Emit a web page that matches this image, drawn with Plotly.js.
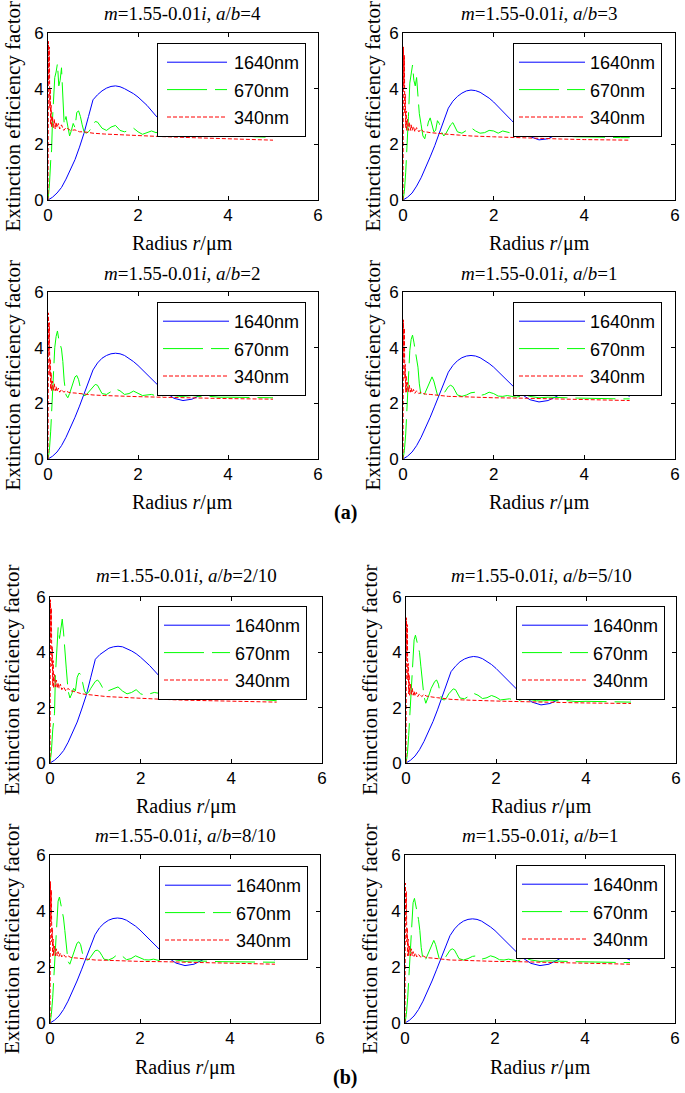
<!DOCTYPE html>
<html>
<head>
<meta charset="utf-8">
<script src="https://cdn.plot.ly/plotly-3.0.1.min.js"></script>
<style>html,body{margin:0;padding:0;background:#fff;}</style>
</head>
<body>
<div id="chart" style="width:685px;height:1093px;"></div>
<script>
// ---------- DATA ----------
const seriesNames = ['1640nm', '670nm', '340nm'];
const aspectLabels = ['4', '3', '2', '1', '2/10', '5/10', '8/10', '1'];
const xTicks = [0, 2, 4, 6];
const yTicks = [0, 2, 4, 6];

// radius grids (um)
const r1640 = [0,0.1,0.2,0.3,0.4,0.5,0.6,0.7,0.8,0.9,
  1.0,1.1,1.2,1.3,1.4,1.5,1.6,1.7,1.8,1.9,
  2.0,2.2,2.4,2.6,2.8,3.0,3.2,3.4,3.6,3.8,
  4.0,4.2,4.4,4.6,4.8,5.0];
const r670 = [0,0.03,0.06,0.08,0.1,0.12,0.15,0.18,0.21,0.24,
  0.27,0.3,0.33,0.36,0.4,0.44,0.48,0.52,0.56,0.6,
  0.64,0.68,0.72,0.76,0.8,0.85,0.9,0.95,1.0,1.05,
  1.1,1.15,1.2,1.3,1.4,1.5,1.6,1.7,1.8,1.9,
  2.0,2.1,2.2,2.3,2.4,2.5,2.6,2.7,2.8,2.9,
  3.0,3.2,3.4,3.6,3.8,4.0,4.2,4.4,4.6,4.8,5.0];
const r340 = [0,0.005,0.01,0.02,0.03,0.04,0.05,0.06,0.07,0.08,
  0.1,0.12,0.14,0.16,0.18,0.2,0.23,0.26,0.3,0.35,
  0.4,0.45,0.5,0.6,0.7,0.8,0.9,1.0,1.25,1.5,
  2.0,2.5,3.0,3.5,4.0,5.0];

// (a) a/b = 4
const q1640_ab4 = [0,0.1,0.25,0.45,0.75,1.1,1.45,1.9,2.4,3.0,
  3.6,3.78,3.92,4.02,4.08,4.1,4.07,4.0,3.92,3.82,
  3.7,3.4,3.02,2.7,2.42,2.27,2.3,2.45,2.65,2.8,
  2.88,2.88,2.8,2.68,2.52,2.4];
const q670_ab4 = [0,0.5,1.4,1.8,2.9,3.8,4.4,4.6,4.9,4.1,
  4.3,4.75,3.5,2.7,3.0,2.6,2.3,2.5,2.75,2.6,
  3.15,3.2,3.0,2.7,2.45,2.4,2.45,2.55,2.7,2.82,
  2.8,2.68,2.58,2.5,2.62,2.68,2.5,2.45,2.5,2.58,
  2.45,2.36,2.42,2.48,2.42,2.45,2.4,2.44,2.38,2.35,
  2.36,2.38,2.33,2.35,2.3,2.32,2.28,2.3,2.27,2.26,2.25];
const q340_ab4 = [0,2.0,5.7,4.2,5.5,3.3,4.0,2.7,3.4,2.6,
  3.0,2.6,2.9,2.55,2.8,2.6,2.75,2.55,2.7,2.5,
  2.6,2.55,2.5,2.52,2.45,2.45,2.42,2.4,2.37,2.35,
  2.3,2.28,2.25,2.23,2.2,2.15];

// (a) a/b = 3
const q1640_ab3 = [0,0.1,0.25,0.5,0.8,1.15,1.55,1.95,2.4,2.85,
  3.3,3.55,3.72,3.84,3.92,3.95,3.93,3.87,3.78,3.66,
  3.52,3.2,2.85,2.52,2.28,2.16,2.2,2.36,2.56,2.72,
  2.8,2.8,2.72,2.6,2.46,2.35];
const q670_ab3 = [0,0.3,1.0,1.6,2.2,3.0,4.2,4.6,4.85,4.3,
  4.1,4.4,3.6,3.1,2.7,2.3,2.2,2.5,2.8,2.95,
  2.7,2.45,2.5,2.85,2.75,2.45,2.3,2.4,2.55,2.7,
  2.78,2.6,2.45,2.4,2.5,2.6,2.48,2.4,2.42,2.5,
  2.48,2.4,2.48,2.44,2.4,2.42,2.38,2.36,2.34,2.3,
  2.3,2.32,2.3,2.3,2.27,2.27,2.26,2.25,2.25,2.24,2.24];
const q340_ab3 = [0,2.0,5.5,4.0,5.2,3.1,3.8,2.6,3.2,2.5,
  2.9,2.5,2.8,2.5,2.7,2.5,2.65,2.45,2.6,2.45,
  2.55,2.45,2.45,2.42,2.4,2.4,2.38,2.36,2.33,2.3,
  2.27,2.24,2.2,2.19,2.17,2.15];

// (a) a/b = 2
const q1640_ab2 = [0,0.1,0.25,0.48,0.78,1.12,1.5,1.9,2.35,2.8,
  3.2,3.45,3.62,3.72,3.78,3.8,3.78,3.72,3.62,3.5,
  3.36,3.04,2.7,2.4,2.18,2.1,2.15,2.3,2.5,2.66,
  2.75,2.76,2.7,2.58,2.42,2.28];
const q670_ab2 = [0,0.3,1.0,1.6,2.4,3.2,4.0,4.4,4.6,4.3,
  4.1,3.95,3.5,2.8,2.3,2.2,2.35,2.55,2.8,2.95,
  3.0,2.85,2.55,2.35,2.28,2.3,2.4,2.5,2.6,2.68,
  2.65,2.5,2.35,2.32,2.42,2.52,2.45,2.32,2.35,2.44,
  2.36,2.28,2.3,2.32,2.27,2.25,2.3,2.3,2.28,2.25,
  2.25,2.28,2.24,2.25,2.22,2.22,2.22,2.21,2.2,2.2,2.2];
const q340_ab2 = [0,2.0,5.25,3.8,4.9,3.0,3.6,2.5,3.1,2.45,
  2.8,2.45,2.7,2.45,2.6,2.42,2.55,2.4,2.5,2.4,
  2.45,2.4,2.38,2.37,2.35,2.33,2.32,2.3,2.28,2.26,
  2.24,2.22,2.2,2.18,2.17,2.15];

// a/b = 1 (used in (a) and (b))
const q1640_ab1 = [0,0.1,0.25,0.48,0.78,1.12,1.5,1.9,2.33,2.75,
  3.12,3.36,3.53,3.64,3.7,3.72,3.7,3.64,3.55,3.43,
  3.3,2.98,2.64,2.34,2.13,2.05,2.1,2.26,2.46,2.62,
  2.72,2.74,2.68,2.56,2.4,2.25];
const q670_ab1 = [0,0.3,0.9,1.5,2.2,3.0,3.9,4.3,4.45,4.2,
  3.9,3.7,3.3,2.7,2.25,2.2,2.35,2.5,2.7,2.85,
  2.95,2.8,2.5,2.3,2.25,2.25,2.35,2.48,2.6,2.65,
  2.6,2.45,2.3,2.25,2.3,2.38,2.4,2.28,2.32,2.4,
  2.35,2.26,2.25,2.28,2.24,2.22,2.26,2.3,2.25,2.22,
  2.2,2.22,2.2,2.2,2.19,2.18,2.18,2.17,2.17,2.16,2.16];
const q340_ab1 = [0,1.9,5.0,3.6,4.7,2.9,3.4,2.4,3.0,2.4,
  2.75,2.4,2.65,2.4,2.55,2.38,2.5,2.36,2.45,2.35,
  2.4,2.35,2.33,2.32,2.3,2.28,2.27,2.25,2.24,2.22,
  2.2,2.19,2.17,2.15,2.13,2.1];

// (b) a/b = 2/10
const q1640_ab02 = [0,0.1,0.25,0.45,0.75,1.1,1.48,1.95,2.45,3.1,
  3.75,3.92,4.05,4.15,4.2,4.22,4.2,4.13,4.05,3.95,
  3.82,3.52,3.15,2.8,2.5,2.33,2.35,2.5,2.68,2.84,
  2.93,2.94,2.88,2.76,2.62,2.5];
const q670_ab02 = [0,0.4,1.2,1.5,1.8,3.2,4.3,4.9,4.5,4.8,
  5.2,4.7,3.9,3.4,2.6,2.35,2.5,2.7,2.6,3.1,
  3.25,3.2,2.9,2.6,2.5,2.55,2.7,2.85,2.95,3.0,
  2.9,2.75,2.6,2.62,2.7,2.75,2.6,2.5,2.55,2.65,
  2.5,2.45,2.5,2.55,2.52,2.5,2.45,2.5,2.44,2.4,
  2.4,2.42,2.38,2.4,2.36,2.36,2.34,2.33,2.3,2.28,2.25];
const q340_ab02 = [0,2.1,5.9,4.5,5.6,3.5,4.2,2.8,3.7,2.7,
  3.2,2.75,3.0,2.7,2.9,2.7,2.85,2.65,2.75,2.6,
  2.7,2.6,2.6,2.55,2.5,2.48,2.46,2.45,2.4,2.38,
  2.33,2.3,2.27,2.25,2.22,2.2];

// (b) a/b = 5/10
const q1640_ab05 = [0,0.1,0.25,0.48,0.78,1.12,1.5,1.92,2.38,2.85,
  3.3,3.5,3.66,3.76,3.82,3.85,3.83,3.77,3.68,3.56,
  3.42,3.1,2.75,2.44,2.2,2.1,2.15,2.3,2.5,2.66,
  2.75,2.76,2.7,2.58,2.42,2.28];
const q670_ab05 = [0,0.3,1.0,1.6,2.2,3.0,4.0,4.45,4.62,4.4,
  4.2,4.0,3.5,2.9,2.4,2.16,2.3,2.5,2.7,2.85,
  2.95,3.0,2.85,2.5,2.3,2.28,2.35,2.5,2.6,2.68,
  2.65,2.5,2.35,2.32,2.42,2.52,2.45,2.33,2.36,2.44,
  2.38,2.28,2.3,2.32,2.28,2.26,2.3,2.3,2.28,2.25,
  2.24,2.27,2.24,2.25,2.22,2.23,2.22,2.22,2.21,2.21,2.2];
const q340_ab05 = [0,2.0,5.25,3.8,5.0,3.0,3.6,2.5,3.2,2.45,
  2.85,2.45,2.7,2.45,2.6,2.42,2.55,2.4,2.5,2.4,
  2.48,2.42,2.4,2.38,2.36,2.34,2.32,2.3,2.28,2.26,
  2.24,2.22,2.2,2.18,2.17,2.15];

// (b) a/b = 8/10
const q1640_ab08 = [0,0.1,0.25,0.48,0.78,1.12,1.5,1.9,2.33,2.76,
  3.15,3.4,3.56,3.67,3.73,3.75,3.73,3.67,3.58,3.46,
  3.32,3.0,2.66,2.36,2.14,2.05,2.1,2.26,2.46,2.62,
  2.72,2.74,2.68,2.56,2.4,2.25];
const q670_ab08 = [0,0.3,0.9,1.5,2.2,3.0,3.9,4.35,4.5,4.25,
  4.0,3.75,3.3,2.7,2.2,2.1,2.3,2.5,2.7,2.85,
  2.9,2.8,2.5,2.3,2.25,2.25,2.35,2.48,2.58,2.6,
  2.55,2.42,2.28,2.25,2.32,2.45,2.4,2.26,2.3,2.4,
  2.34,2.26,2.25,2.28,2.24,2.22,2.26,2.3,2.25,2.22,
  2.2,2.22,2.2,2.2,2.19,2.19,2.18,2.18,2.17,2.17,2.17];
const q340_ab08 = [0,1.9,5.05,3.6,4.75,2.9,3.4,2.4,3.0,2.4,
  2.75,2.4,2.65,2.4,2.55,2.38,2.5,2.36,2.45,2.35,
  2.4,2.35,2.33,2.32,2.3,2.28,2.27,2.25,2.24,2.22,
  2.2,2.19,2.17,2.15,2.13,2.1];

const panelData = [
  [q1640_ab4, q670_ab4, q340_ab4],
  [q1640_ab3, q670_ab3, q340_ab3],
  [q1640_ab2, q670_ab2, q340_ab2],
  [q1640_ab1, q670_ab1, q340_ab1],
  [q1640_ab02, q670_ab02, q340_ab02],
  [q1640_ab05, q670_ab05, q340_ab05],
  [q1640_ab08, q670_ab08, q340_ab08],
  [q1640_ab1, q670_ab1, q340_ab1]
];
const radii = [r1640, r670, r340];

// ---------- LAYOUT / STYLE ----------
const W = 685, H = 1093;
// axes boxes in px: [left, right, top, bottom]
const boxes = [
  [48, 318, 33, 200], [403, 675, 33, 200],
  [48, 318, 292, 459], [403, 675, 292, 459],
  [50, 322, 597, 763], [406, 676, 597, 763],
  [50, 320, 855, 1023], [405, 675, 855, 1023]
];
const legendPos = [[157, 43], [513, 43], [157, 302], [513, 302],
  [158, 606], [516, 606], [159, 866], [516, 865]];
const titleY = [13, 13, 273, 273, 575, 575, 835, 835];
const xTitleY = [243, 243, 502, 502, 806, 806, 1067, 1067];
const yTitleX = [12, 372, 12, 372, 12, 370, 12, 370];

const colors = ['#0000ff', '#00ff00', '#ff0000'];
const dashes = ['solid', '40px,8px', '4px,2px'];
const dashArr = ['none', '40px,8px', '4px,2px'];
const serif = 'Liberation Serif, Times New Roman, serif';
const sans = 'Liberation Sans, Arial, sans-serif';

const px = v => v / W;
const py = v => 1 - v / H;

const traces = [];
const layout = {
  width: W, height: H,
  margin: {l: 0, r: 0, t: 0, b: 0},
  paper_bgcolor: '#fff', plot_bgcolor: '#fff',
  showlegend: true,
  annotations: []
};

boxes.forEach((b, i) => {
  const k = i + 1;
  const xa = 'xaxis' + (k === 1 ? '' : k), ya = 'yaxis' + (k === 1 ? '' : k);
  const xr = 'x' + (k === 1 ? '' : k), yr = 'y' + (k === 1 ? '' : k);
  const lg = 'legend' + (k === 1 ? '' : k);
  const axCommon = {
    range: [0, 6], showgrid: false, zeroline: false,
    showline: true, linecolor: '#000', linewidth: 1, mirror: 'ticks',
    ticks: 'inside', ticklen: 4, tickwidth: 1, tickcolor: '#000',
    tickfont: {family: sans, size: 17, color: '#000'}, fixedrange: true
  };
  layout[xa] = Object.assign({}, axCommon, {
    domain: [px(b[0]), px(b[1])], anchor: yr, tickvals: xTicks, ticktext: xTicks.map(String)
  });
  layout[ya] = Object.assign({}, axCommon, {
    domain: [py(b[3]), py(b[2])], anchor: xr, tickvals: yTicks, ticktext: yTicks.map(String)
  });
  layout[lg] = {
    x: px(legendPos[i][0]), y: py(legendPos[i][1]), xanchor: 'left', yanchor: 'top',
    xref: 'paper', yref: 'paper',
    bgcolor: '#fff', bordercolor: '#000', borderwidth: 1,
    font: {family: sans, size: 18, color: '#000'},
    traceorder: 'grouped', tracegroupgap: 1, itemwidth: 66
  };
  panelData[i].forEach((ys, s) => {
    traces.push({
      type: 'scatter', mode: 'lines', name: seriesNames[s],
      x: radii[s], y: ys, xaxis: xr, yaxis: yr, legend: lg,
      legendgroup: 'g' + k + '_' + s, showlegend: true,
      line: {color: colors[s], width: 1, dash: dashes[s]},
      hoverinfo: 'skip'
    });
  });
  const cx = (b[0] + b[1]) / 2, cy = (b[2] + b[3]) / 2;
  layout.annotations.push({
    text: '<i>m</i>=1.55-0.01<i>i</i>, <i>a</i>/<i>b</i>=' + aspectLabels[i],
    xref: 'paper', yref: 'paper', x: px(cx), y: py(titleY[i]),
    xanchor: 'center', yanchor: 'middle', showarrow: false,
    font: {family: serif, size: 19, color: '#000'}
  });
  layout.annotations.push({
    text: 'Radius <i>r</i>/μm',
    xref: 'paper', yref: 'paper', x: px(cx), y: py(xTitleY[i]),
    xanchor: 'center', yanchor: 'middle', showarrow: false,
    font: {family: serif, size: 20, color: '#000'}
  });
  layout.annotations.push({
    text: 'Extinction efficiency factor', textangle: -90,
    xref: 'paper', yref: 'paper', x: px(yTitleX[i]), y: py(cy),
    xanchor: 'center', yanchor: 'middle', showarrow: false,
    font: {family: serif, size: 21, color: '#000'}
  });
});

layout.annotations.push({
  text: '<b>(a)</b>', xref: 'paper', yref: 'paper', x: px(345), y: py(512),
  xanchor: 'center', yanchor: 'middle', showarrow: false,
  font: {family: serif, size: 20, color: '#000'}
});
layout.annotations.push({
  text: '<b>(b)</b>', xref: 'paper', yref: 'paper', x: px(345), y: py(1077),
  xanchor: 'center', yanchor: 'middle', showarrow: false,
  font: {family: serif, size: 20, color: '#000'}
});

Plotly.newPlot('chart', traces, layout, {staticPlot: true, displayModeBar: false}).then(gd => {
  // restyle legend key lines (colour/dash from each trace, 60px long like the original)
  gd.querySelectorAll('g.traces').forEach(g => {
    const d = g.__data__;
    if (!d || !d[0] || !d[0].trace) return;
    const tr = d[0].trace;
    const s = seriesNames.indexOf(tr.name);
    const path = g.querySelector('path.js-line');
    const txt = g.querySelector('text.legendtext');
    if (!path || !txt || s < 0) return;
    path.setAttribute('d', 'M5,0h30');
    const pr = path.getBoundingClientRect();
    const tx = txt.getBoundingClientRect();
    const origin = pr.left - 5;
    const start = tx.left - 67 - origin;
    path.setAttribute('d', 'M' + start.toFixed(1) + ',0h60');
    path.style.stroke = colors[s];
    path.style.strokeWidth = '1px';
    path.style.strokeDasharray = dashArr[s];
    path.style.strokeOpacity = 1;
  });
});
</script>
</body>
</html>
